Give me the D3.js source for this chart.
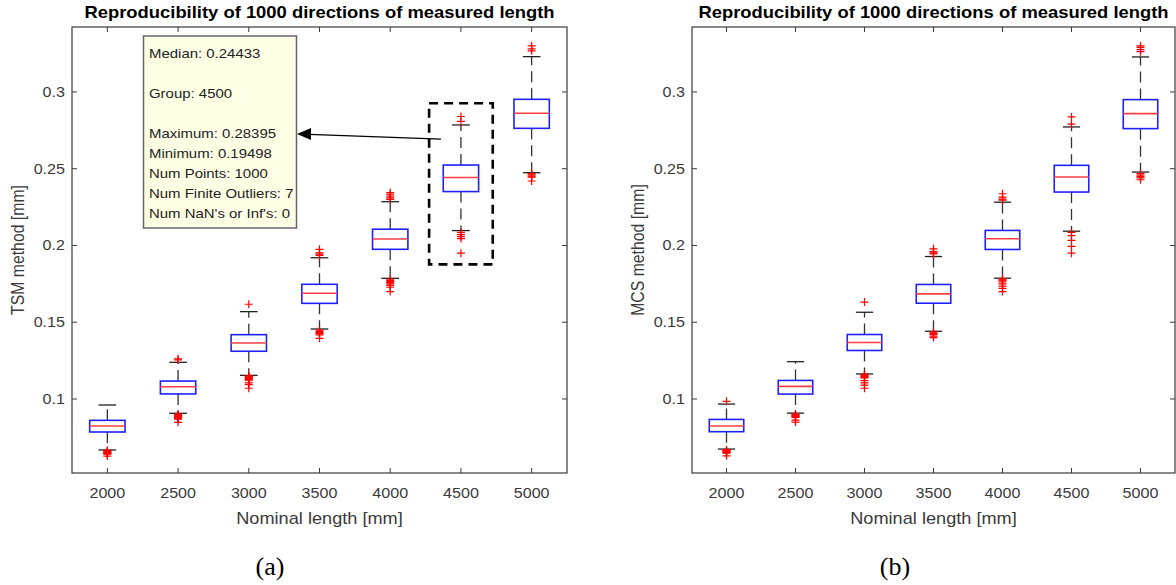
<!DOCTYPE html>
<html>
<head>
<meta charset="utf-8">
<script src="https://cdn.jsdelivr.net/npm/d3@7"></script>
<style>
  body { margin: 0; background: #fff; }
  svg { display: block; }
  text { font-family: "Liberation Sans", Arial, Helvetica, sans-serif; }
</style>
</head>
<body>
<svg id="chart" width="1176" height="585"></svg>
<script>
// --- data ---
const groups = ["2000", "2500", "3000", "3500", "4000", "4500", "5000"];
const yTicks = [0.1, 0.15, 0.2, 0.25, 0.3];

// TSM method (a)
const tsmLo  = [0.0668, 0.0907, 0.1154, 0.1456, 0.1786, 0.2097, 0.2474];
const tsmQ1  = [0.0785, 0.1033, 0.1311, 0.1623, 0.1975, 0.2351, 0.2763];
const tsmMed = [0.0824, 0.1080, 0.1365, 0.1689, 0.2042, 0.2443, 0.2861];
const tsmQ3  = [0.0861, 0.1117, 0.1419, 0.1747, 0.2106, 0.2524, 0.2952];
const tsmHi  = [0.0961, 0.1239, 0.1569, 0.1920, 0.2285, 0.2785, 0.3230];
const tsmOut = [
  [0.0665, 0.0660, 0.0657, 0.0653, 0.0650, 0.0647, 0.0644, 0.0641, 0.0628],
  [0.1262, 0.1255, 0.0902, 0.0898, 0.0893, 0.0889, 0.0885, 0.0881, 0.0877, 0.0873, 0.0868, 0.0848],
  [0.1617, 0.1150, 0.1146, 0.1142, 0.1138, 0.1134, 0.1130, 0.1126, 0.1122, 0.1105, 0.1094, 0.1070],
  [0.1935, 0.1943, 0.1952, 0.1975, 0.1448, 0.1440, 0.1433, 0.1426, 0.1418, 0.1395],
  [0.2300, 0.2310, 0.2322, 0.2335, 0.2345, 0.1780, 0.1772, 0.1765, 0.1758, 0.1750, 0.1740, 0.1728, 0.1700],
  [0.2840, 0.2808, 0.2085, 0.2070, 0.2058, 0.2045, 0.1950],
  [0.3268, 0.3280, 0.3300, 0.2468, 0.2460, 0.2452, 0.2445, 0.2420]
];

// MCS method (b)
const mcsLo  = [0.0674, 0.0908, 0.1163, 0.1441, 0.1787, 0.2093, 0.2478];
const mcsQ1  = [0.0787, 0.1032, 0.1316, 0.1624, 0.1974, 0.2348, 0.2761];
const mcsMed = [0.0824, 0.1082, 0.1368, 0.1685, 0.2044, 0.2446, 0.2859];
const mcsQ3  = [0.0867, 0.1121, 0.1420, 0.1746, 0.2098, 0.2522, 0.2950];
const mcsHi  = [0.0967, 0.1243, 0.1565, 0.1928, 0.2282, 0.2772, 0.3228];
const mcsOut = [
  [0.0985, 0.0670, 0.0666, 0.0662, 0.0658, 0.0655, 0.0651, 0.0647, 0.0630],
  [0.0902, 0.0897, 0.0893, 0.0889, 0.0885, 0.0880, 0.0862, 0.0850],
  [0.1631, 0.1160, 0.1155, 0.1150, 0.1146, 0.1142, 0.1138, 0.1120, 0.1105, 0.1090, 0.1070],
  [0.1945, 0.1952, 0.1960, 0.1978, 0.1435, 0.1428, 0.1420, 0.1410, 0.1400],
  [0.2295, 0.2302, 0.2315, 0.2337, 0.1783, 0.1776, 0.1770, 0.1762, 0.1750, 0.1735, 0.1720, 0.1700],
  [0.2790, 0.2837, 0.2085, 0.2064, 0.2033, 0.1994, 0.1950],
  [0.3262, 0.3275, 0.3290, 0.3300, 0.2468, 0.2458, 0.2448, 0.2440, 0.2428]
];

// datatip shown on (a)
const tipLines = ["Median: 0.24433", "", "Group: 4500", "", "Maximum: 0.28395", "Minimum: 0.19498",
  "Num Points: 1000", "Num Finite Outliers: 7", "Num NaN's or Inf's: 0"];

const yDomain = [0.0518, 0.3423];
const SX = 1.15; // the figure is slightly stretched horizontally
const axisCol = "#3a3a3a";

const svg = d3.select("#chart");

// text helper: places text at x,y with the horizontal stretch
function label(g, x, y, str, size, anchor, rot) {
  return g.append("text")
    .attr("transform", `translate(${x},${y}) scale(${SX},1)` + (rot ? ` rotate(${rot})` : ""))
    .attr("text-anchor", anchor || "middle")
    .attr("font-size", size)
    .attr("fill", axisCol)
    .text(str);
}

function drawPanel(p) {
  const g = svg.append("g");
  const x = d3.scalePoint().domain(groups).range([p.left, p.right]).padding(0.5);
  const y = d3.scaleLinear().domain(yDomain).range([p.bottom, p.top]);
  const step = x.step();
  const bw = step * 0.5, cw = step * 0.25;

  // frame
  g.append("rect")
    .attr("x", p.left).attr("y", p.top)
    .attr("width", p.right - p.left).attr("height", p.bottom - p.top)
    .attr("fill", "none").attr("stroke", axisCol).attr("stroke-width", 1.2);

  // ticks (inside, all four sides)
  groups.forEach(d => {
    g.append("line").attr("x1", x(d)).attr("x2", x(d)).attr("y1", p.bottom).attr("y2", p.bottom - 5)
      .attr("stroke", axisCol);
    g.append("line").attr("x1", x(d)).attr("x2", x(d)).attr("y1", p.top).attr("y2", p.top + 5)
      .attr("stroke", axisCol);
    label(g, x(d), 498, d, 14, "middle");
  });
  yTicks.forEach(t => {
    g.append("line").attr("x1", p.left).attr("x2", p.left + 5).attr("y1", y(t)).attr("y2", y(t))
      .attr("stroke", axisCol);
    g.append("line").attr("x1", p.right).attr("x2", p.right - 5).attr("y1", y(t)).attr("y2", y(t))
      .attr("stroke", axisCol);
    label(g, p.left - 7, y(t) + 5, d3.format("~g")(t), 14, "end");
  });

  // boxes
  groups.forEach((d, i) => {
    const cx = x(d);
    // whiskers (dashed) from the box out to the caps
    [[p.q3[i], p.hi[i]], [p.q1[i], p.lo[i]]].forEach(([a, b]) => {
      g.append("line").attr("x1", cx).attr("x2", cx).attr("y1", y(a)).attr("y2", y(b))
        .attr("stroke", "#333").attr("stroke-width", 1.3).attr("stroke-dasharray", "11,6");
      g.append("line").attr("x1", cx - cw / 2).attr("x2", cx + cw / 2).attr("y1", y(b)).attr("y2", y(b))
        .attr("stroke", "#222").attr("stroke-width", 1.3);
    });
    g.append("rect")
      .attr("x", cx - bw / 2).attr("y", y(p.q3[i]))
      .attr("width", bw).attr("height", y(p.q1[i]) - y(p.q3[i]))
      .attr("fill", "none").attr("stroke", "#2020ff").attr("stroke-width", 1.6);
    g.append("line").attr("x1", cx - bw / 2).attr("x2", cx + bw / 2)
      .attr("y1", y(p.med[i])).attr("y2", y(p.med[i]))
      .attr("stroke", "#ff4040").attr("stroke-width", 1.6);
    // outliers as red plus signs
    p.out[i].forEach(v => {
      g.append("path")
        .attr("d", `M${cx - 4},${y(v)}H${cx + 4}M${cx},${y(v) - 4}V${y(v) + 4}`)
        .attr("stroke", "#ff0000").attr("stroke-width", 1.2).attr("fill", "none");
    });
  });

  // title and labels
  label(g, (p.left + p.right) / 2, 18, "Reproducibility of 1000 directions of measured length", 16, "middle")
    .attr("font-weight", "bold").attr("fill", "#000");
  label(g, (p.left + p.right) / 2, 523.5, "Nominal length [mm]", 15.8, "middle");
  label(g, p.left - 48, (p.top + p.bottom) / 2, p.ylabel, 15.8, "middle", -90);

  g.append("text")
    .attr("x", p.captionX).attr("y", 575)
    .attr("text-anchor", "middle")
    .style("font-family", "'Liberation Serif', 'Times New Roman', serif")
    .attr("font-size", 26)
    .attr("fill", "#000")
    .text(p.caption);

  return { g, x, y, step };
}

const a = drawPanel({
  left: 72, right: 567, top: 27, bottom: 473,
  lo: tsmLo, q1: tsmQ1, med: tsmMed, q3: tsmQ3, hi: tsmHi, out: tsmOut,
  ylabel: "TSM method [mm]", caption: "(a)", captionX: 270
});
drawPanel({
  left: 692, right: 1175, top: 27, bottom: 473,
  lo: mcsLo, q1: mcsQ1, med: mcsMed, q3: mcsQ3, hi: mcsHi, out: mcsOut,
  ylabel: "MCS method [mm]", caption: "(b)", captionX: 895
});

// annotation on (a): dashed frame round the 4500 box, arrow, datatip
const cx45 = a.x("4500");
a.g.append("rect")
  .attr("x", cx45 - 0.45 * a.step).attr("y", a.y(0.2926))
  .attr("width", 0.9 * a.step).attr("height", a.y(0.1877) - a.y(0.2926))
  .attr("fill", "none").attr("stroke", "#000").attr("stroke-width", 2.6)
  .attr("stroke-dasharray", "9,6");

const tip = { x: 143.5, y: 36, w: 153, h: 192 };
const arrowY0 = a.y(0.2693), arrowX1 = tip.x + tip.w + 0.5, arrowY1 = 134;
a.g.append("line")
  .attr("x1", cx45 - 20).attr("y1", arrowY0)
  .attr("x2", arrowX1 + 12).attr("y2", arrowY1 + 0.4)
  .attr("stroke", "#000").attr("stroke-width", 1.3);
a.g.append("path")
  .attr("d", `M${arrowX1},${arrowY1}L${arrowX1 + 14},${arrowY1 - 6}L${arrowX1 + 14},${arrowY1 + 6}Z`)
  .attr("fill", "#000");

a.g.append("rect")
  .attr("x", tip.x).attr("y", tip.y).attr("width", tip.w).attr("height", tip.h)
  .attr("fill", "#ffffe6").attr("stroke", "#666").attr("stroke-width", 1.5);
tipLines.forEach((t, i) => {
  if (!t) return;
  a.g.append("text")
    .attr("transform", `translate(${tip.x + 5.5},${57.5 + 20 * i}) scale(${SX},1)`)
    .attr("font-size", 13)
    .attr("fill", "#222")
    .text(t);
});
</script>
</body>
</html>
